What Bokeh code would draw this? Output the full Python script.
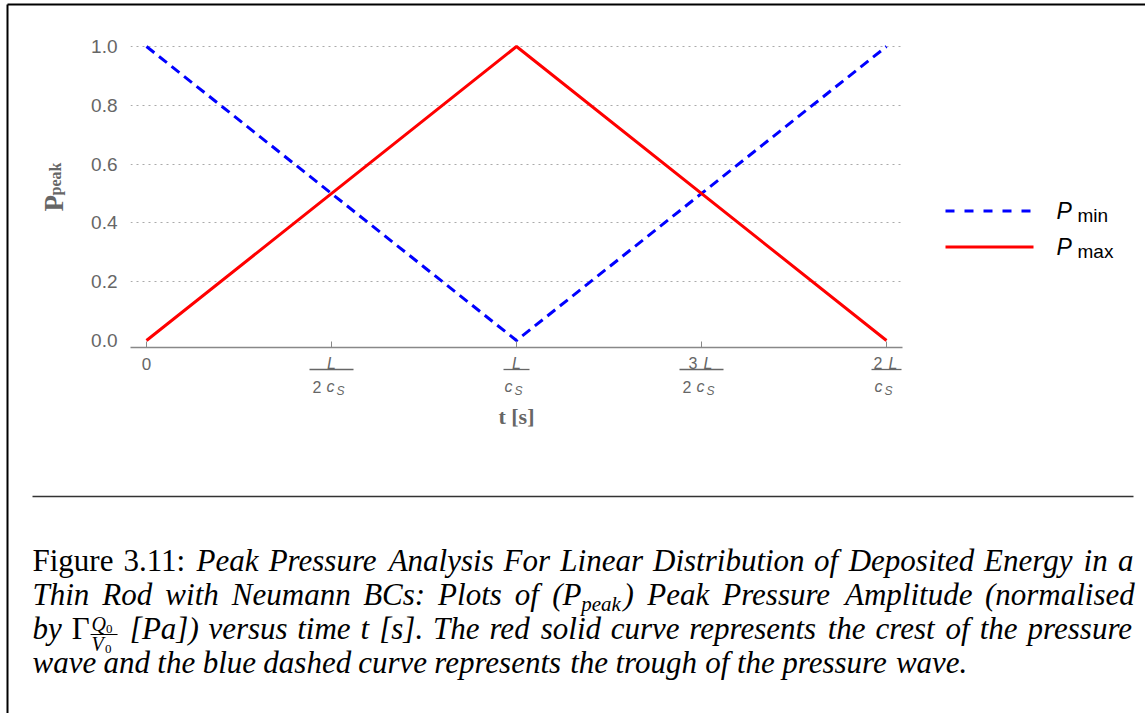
from bokeh.plotting import figure
from bokeh.models import Range1d, FixedTicker, NumeralTickFormatter
from bokeh.core.properties import value
from bokeh.embed import file_html
from bokeh.resources import INLINE

# Peak pressure (normalised) against time, time measured in units of L / c_s
t = [0.0, 1.0, 2.0]
p_min = [1.0, 0.0, 1.0]   # trough of the pressure wave
p_max = [0.0, 1.0, 0.0]   # crest of the pressure wave

# axis ticks: x ticks are multiples of L / c_s written as fractions
t_ticks = [0.0, 0.5, 1.0, 1.5, 2.0]
num_coef = ["", "", "", "3", "2"]      # numerator factor in front of L
den_coef = ["", "2", "", "2", ""]      # denominator factor in front of c_S
y_ticks = [0.0, 0.2, 0.4, 0.6, 0.8, 1.0]

legend_subs = ["min", "max"]
legend_colors = ["#0000ff", "#ff0000"]
legend_dashes = ["9 10", "solid"]

# caption text
cap_label = "Figure 3.11:"
cap_1 = "Peak Pressure Analysis For Linear Distribution of Deposited Energy in a"
cap_2a = "Thin Rod with Neumann BCs: Plots of"
cap_2b = "Peak Pressure Amplitude (normalised"
cap_3a = "by"
cap_3b = "[Pa]) versus time t [s]. The red solid curve represents the crest of the pressure"
cap_4 = "wave and the blue dashed curve represents the trough of the pressure wave."

GREY = "#666666"
SANS = "Liberation Sans"
SERIF = "Liberation Serif"

W, H = 1145, 713
FL, FR, FT, FB = 130, 902, 36, 347      # plot frame edges on the page (px)
DROP = 0.28                             # baseline correction (fraction of font size)

p = figure(
    frame_width=FR - FL, frame_height=FB - FT,
    min_border_left=FL, min_border_right=W - FR,
    min_border_top=FT, min_border_bottom=H - FB,
    x_range=Range1d(-16 / 370, 2 + 16 / 370),
    y_range=Range1d(-7 / 294, 1 + 10 / 294),
    output_backend="svg", toolbar_location=None,
    background_fill_color="white", border_fill_color="white",
    outline_line_color=None,
)
# page-pixel coordinates for the decorations around the plot
p.extra_x_ranges = {"page": Range1d(FL, FR)}
p.extra_y_ranges = {"page": Range1d(FB, FT)}

# ---- axes and grid
xa = p.xaxis[0]
xa.ticker = FixedTicker(ticks=t_ticks)
xa.major_label_overrides = {tk: ("0" if tk == 0 else "") for tk in t_ticks}
xa.major_label_text_font = SANS
xa.major_label_text_font_size = "17px"
xa.major_label_text_color = GREY
xa.major_label_standoff = 10
xa.axis_line_color = "#888888"
xa.axis_line_width = 1.3
xa.major_tick_line_color = "#888888"
xa.major_tick_in = 6
xa.major_tick_out = 0
xa.minor_tick_line_color = None
xa.axis_label = "t [s]"
xa.axis_label_text_font = SERIF
xa.axis_label_text_font_style = "bold"
xa.axis_label_text_font_size = "22px"
xa.axis_label_text_color = GREY
xa.axis_label_standoff = 31

ya = p.yaxis[0]
ya.ticker = FixedTicker(ticks=y_ticks)
ya.formatter = NumeralTickFormatter(format="0.0")
ya.major_label_text_font = SANS
ya.major_label_text_font_size = "19px"
ya.major_label_text_color = GREY
ya.major_label_standoff = 7
ya.axis_line_color = None
ya.major_tick_line_color = None
ya.minor_tick_line_color = None

p.xgrid.grid_line_color = None
p.ygrid.ticker = FixedTicker(ticks=y_ticks[1:])
p.ygrid.grid_line_color = "#aaaaaa"
p.ygrid.grid_line_dash = "2 4"
p.ygrid.grid_line_width = 1.2

# ---- data curves
p.line(t, p_min, line_color="#0000ff", line_width=3, line_dash="10 6")
p.line(t, p_max, line_color="#ff0000", line_width=3)


def txt(x, y, s, size, font=SANS, style="normal", color=GREY, align="left",
        angle=0.0, xr="page"):
    """Text with its alphabetic baseline at page row y."""
    if angle == 0.0:
        y = y - DROP * size
    p.text(x=[x], y=[y], text=[s], text_font=value(font),
           text_font_size=value(f"{size}px"), text_font_style=style,
           text_color=color, text_align=align, text_baseline="alphabetic",
           angle=angle, x_range_name=xr, y_range_name="page", level="overlay")


def txt_off(x, y, s, size, dx, style="normal", align="left"):
    """Tick-label text placed at a data x with a pixel shift."""
    p.text(x=[x], y=[y - DROP * size], text=[s], text_font=value(SANS),
           text_font_size=value(f"{size}px"), text_font_style=style,
           text_color=GREY, text_align=align, text_baseline="alphabetic",
           x_offset=dx, y_range_name="page", level="overlay")


# ---- fraction tick labels  (k L) / (m c_S)
for tk, nc, dc in zip(t_ticks, num_coef, den_coef):
    if tk == 0:
        continue
    if nc:
        txt_off(tk, 367, nc, 16, -4, align="right")
        txt_off(tk, 367, "L", 16, 2, style="italic")
    else:
        txt_off(tk, 367, "L", 16, 0, style="italic", align="center")
    hw = 22 if dc else (15 if nc else 13)
    p.rect(x=[tk], y=[369], width=2 * hw, height=1.3, width_units="screen",
           height_units="screen", fill_color=GREY, line_color=None,
           y_range_name="page", level="overlay")
    if dc:
        txt_off(tk, 390.5, dc, 16, -10, align="right")
        txt_off(tk, 390.5, "c", 16, -5, style="italic")
        txt_off(tk, 393.5, "S", 12, 5, style="italic")
    else:
        txt_off(tk, 390.5, "c", 16, -12, style="italic")
        txt_off(tk, 393.5, "S", 12, -2, style="italic")

# ---- y axis title  P_peak (rotated)
txt(53, 211, "P", 27, font=SERIF, style="bold", angle=1.5708)
txt(55, 195, "peak", 16, font=SERIF, style="bold", angle=1.5708)

# ---- legend
for (sub, col, dash), ly in zip(zip(legend_subs, legend_colors, legend_dashes), [210.5, 246.5]):
    p.segment(x0=[945], y0=[ly], x1=[1033], y1=[ly], line_color=col, line_width=3,
              line_dash=dash, x_range_name="page", y_range_name="page", level="overlay")
    txt(1056, ly + 6.5, "P", 23, style="italic", color="black")
    txt(1077, ly + 10, sub, 19, color="black")

# ---- page frame and rule above the caption
p.segment(x0=[7, 7, 32], y0=[4, 4, 496], x1=[7, 1145, 1133], y1=[713, 4, 496],
          line_color=["black", "black", "#333333"], line_width=[2, 2, 1.4],
          x_range_name="page", y_range_name="page", level="overlay")

# ---- caption, set as justified words
CAP, SUB, FRAC_W = 31, 21, 30
# advance widths (1/1000 em) of the serif face, italic and upright
ITAL = dict(zip(" ().:[]013ABCDEFLNPRTQV",
                [250, 333, 333, 250, 333, 389, 389, 500, 500, 500, 611, 611, 667,
                 722, 611, 611, 556, 667, 611, 611, 556, 722, 611]))
ITAL.update(dict(zip("abcdefghiklmnoprstuvwyz",
                     [500, 500, 444, 500, 444, 278, 500, 500, 278, 444, 278, 722,
                      500, 500, 500, 389, 389, 278, 500, 444, 667, 444, 389])))
ROMAN = dict(zip("Figure 3.1:\u0393", [556, 278, 500, 500, 333, 444, 250, 500, 250, 500, 278, 578]))


def seg_width(s, size, style):
    if s == "FRAC":
        return FRAC_W
    tab = ITAL if style == "italic" else ROMAN
    w = sum(tab.get(ch, 500) for ch in s) / 1000 * size * 0.992
    return w + (3 if size < CAP else 0)   # room after a subscript


def words(s, style="italic"):
    return [[(w, style, CAP, 0)] for w in s.split()]


caption = [
    words(cap_label, "normal") + words(cap_1),
    words(cap_2a) + [[("(P", "italic", CAP, 0), ("peak", "italic", SUB, 6),
                      (")", "italic", CAP, 0)]] + words(cap_2b),
    words(cap_3a) + [[("\u0393", "normal", CAP, 0), ("FRAC", "normal", CAP, 0)]] + words(cap_3b),
    words(cap_4),
]
caption_baselines = [569, 603, 637, 671]
LEFT, RIGHT = 32, 1133

for li, (line, by) in enumerate(zip(caption, caption_baselines)):
    wlen = [sum(seg_width(s, sz, st) for s, st, sz, _ in wd) for wd in line]
    if li < len(caption) - 1:
        gap = (RIGHT - LEFT - sum(wlen)) / (len(line) - 1)
    else:
        gap = 0.25 * CAP
    x = LEFT
    for wd, wl in zip(line, wlen):
        sx = x
        for s, st, sz, dy in wd:
            if s == "FRAC":
                # Q_0 over V_0
                txt(sx + 2, by - 7.5, "Q", 20, font=SERIF, style="italic", color="black")
                txt(sx + 16.5, by - 4.5, "0", 13, font=SERIF, color="black")
                p.segment(x0=[sx + 1], y0=[by - 3], x1=[sx + 28], y1=[by - 3],
                          line_color="black", line_width=1, x_range_name="page",
                          y_range_name="page", level="overlay")
                txt(sx + 2, by + 12, "V", 20, font=SERIF, style="italic", color="black")
                txt(sx + 15.5, by + 15, "0", 13, font=SERIF, color="black")
            else:
                txt(sx, by + dy, s, sz, font=SERIF, style=st, color="black")
            sx += seg_width(s, sz, st)
        x += wl + gap

open("out.html", "w").write(file_html(p, INLINE))
